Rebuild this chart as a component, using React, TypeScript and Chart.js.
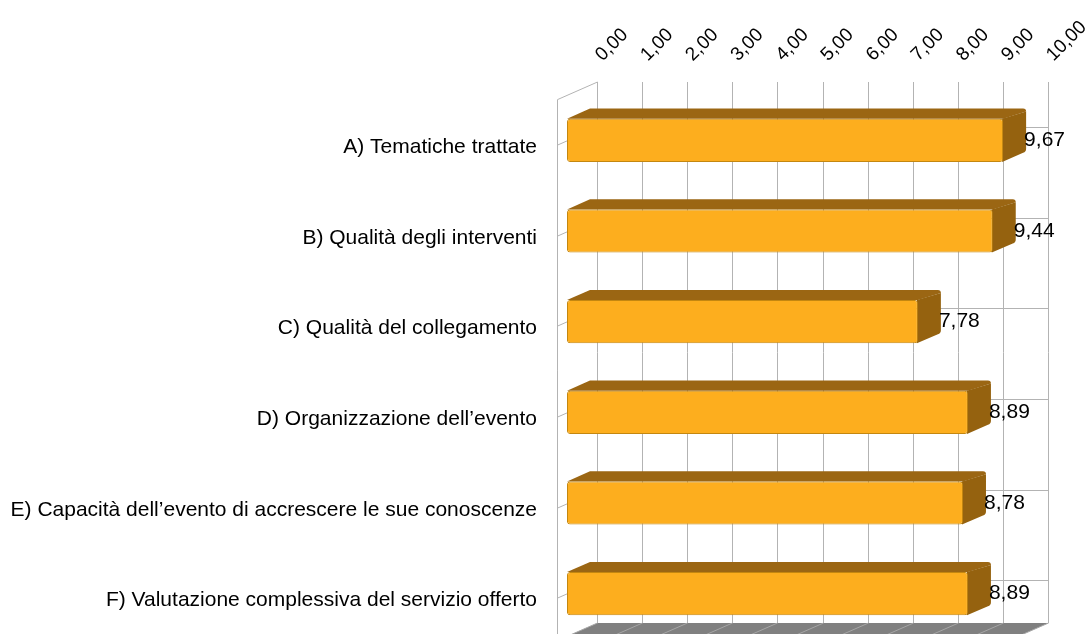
import React, { useEffect, useRef } from "react";
import { Chart, registerables } from "chart.js";

Chart.register(...registerables);

const categories = [
  "A) Tematiche trattate",
  "B) Qualità degli interventi",
  "C) Qualità del collegamento",
  "D) Organizzazione dell’evento",
  "E) Capacità dell’evento di accrescere le sue conoscenze",
  "F) Valutazione complessiva del servizio offerto",
];
const values = [9.67, 9.44, 7.78, 8.89, 8.78, 8.89];
const xTicks = [0, 1, 2, 3, 4, 5, 6, 7, 8, 9, 10];
const X_MIN = 0;
const X_MAX = 10;

const FONT = '"Liberation Sans", Arial, sans-serif';
const fmt = (v: number) => v.toFixed(2).replace(".", ",");

// oblique-projection constants for the 3D look
const K = 0.44; // dy per dx in depth direction
const BACK = 30; // bar front plane -> back wall
const WALL = 10; // wall front -> bar front plane
const DEPTH = 23; // bar depth

const threeD = {
  id: "threeD",
  beforeDatasetsDraw(chart: any) {
    const { ctx, chartArea: ca, scales } = chart;
    const xs = scales.x;
    const ys = scales.y;
    const backTop = ca.top - 13;
    const backBottom = ca.bottom - 16;
    const bx0 = Math.round(xs.getPixelForValue(X_MIN) + BACK) + 0.5;
    const bx1 = Math.round(xs.getPixelForValue(X_MAX) + BACK) + 0.5;
    const fdx = BACK + WALL;
    const fdy = fdx * K;
    ctx.save();
    // floor
    ctx.fillStyle = "#808080";
    ctx.beginPath();
    ctx.moveTo(bx0, backBottom);
    ctx.lineTo(bx1, backBottom);
    ctx.lineTo(bx1 - fdx, backBottom + fdy);
    ctx.lineTo(bx0 - fdx, backBottom + fdy);
    ctx.closePath();
    ctx.fill();
    ctx.lineWidth = 1;
    ctx.strokeStyle = "#a6a6a6";
    xTicks.forEach((v) => {
      const xb = Math.round(xs.getPixelForValue(v) + BACK) + 0.5;
      ctx.beginPath();
      ctx.moveTo(xb, backBottom);
      ctx.lineTo(xb - fdx, backBottom + fdy);
      ctx.stroke();
    });
    // back wall grid
    ctx.strokeStyle = "#b3b3b3";
    xTicks.forEach((v) => {
      const xb = Math.round(xs.getPixelForValue(v) + BACK) + 0.5;
      ctx.beginPath();
      ctx.moveTo(xb, backTop);
      ctx.lineTo(xb, backBottom);
      ctx.stroke();
    });
    categories.forEach((_, i) => {
      const yb = Math.round(ys.getPixelForValue(i) - BACK * K) + 0.5;
      ctx.beginPath();
      ctx.moveTo(bx0, yb);
      ctx.lineTo(bx1, yb);
      ctx.moveTo(bx0, yb);
      ctx.lineTo(bx0 - fdx, yb + fdy);
      ctx.stroke();
    });
    // left wall edges
    ctx.beginPath();
    ctx.moveTo(bx0 - fdx, backTop + fdy);
    ctx.lineTo(bx0 - fdx, backBottom + fdy);
    ctx.moveTo(bx0 - fdx, backTop + fdy);
    ctx.lineTo(bx0, backTop);
    ctx.stroke();
    // bar top & side faces
    const meta = chart.getDatasetMeta(0);
    const dx = DEPTH;
    const dy = DEPTH * K;
    meta.data.forEach((bar: any) => {
      const p = bar.getProps(["x", "y", "base", "height"], true);
      const top = p.y - p.height / 2;
      const bottom = p.y + p.height / 2;
      ctx.fillStyle = "#9b6613";
      ctx.beginPath();
      ctx.moveTo(p.base, top);
      ctx.lineTo(p.base + dx, top - dy);
      ctx.lineTo(p.x + dx - 3, top - dy);
      ctx.quadraticCurveTo(p.x + dx, top - dy, p.x + dx, top - dy + 3);
      ctx.lineTo(p.x, top);
      ctx.closePath();
      ctx.fill();
      ctx.fillStyle = "#95620f";
      ctx.beginPath();
      ctx.moveTo(p.x - 1, top);
      ctx.lineTo(p.x + dx, top - dy + 3);
      ctx.lineTo(p.x + dx, bottom - dy - 3);
      ctx.quadraticCurveTo(p.x + dx, bottom - dy, p.x + dx - 3, bottom - dy + 1);
      ctx.lineTo(p.x - 1, bottom);
      ctx.closePath();
      ctx.fill();
    });
    ctx.restore();
  },
  afterDatasetsDraw(chart: any) {
    const { ctx } = chart;
    const meta = chart.getDatasetMeta(0);
    ctx.save();
    ctx.font = `21px ${FONT}`;
    ctx.fillStyle = "#000";
    ctx.textAlign = "left";
    ctx.textBaseline = "middle";
    meta.data.forEach((bar: any, i: number) => {
      const p = bar.getProps(["x", "y"], true);
      ctx.fillText(fmt(values[i]), p.x + 21, p.y);
    });
    ctx.restore();
  },
};

export default function App() {
  const ref = useRef<HTMLCanvasElement | null>(null);
  useEffect(() => {
    if (!ref.current) return;
    const chart = new Chart(ref.current, {
      type: "bar",
      data: {
        labels: categories,
        datasets: [
          {
            data: values,
            backgroundColor: "#fdae1e",
            borderColor: "#c48710",
            borderWidth: 1,
            borderRadius: 3,
            borderSkipped: false,
            barPercentage: 0.477,
            categoryPercentage: 1,
            base: 0,
            clip: false,
          } as any,
        ],
      },
      options: {
        indexAxis: "y",
        animation: false,
        responsive: true,
        maintainAspectRatio: false,
        layout: { padding: { left: 0, right: 73, top: 0, bottom: 6 } },
        plugins: {
          legend: { display: false },
          tooltip: { enabled: false },
        },
        scales: {
          x: {
            type: "linear",
            position: "top",
            min: X_MIN,
            max: X_MAX,
            afterBuildTicks: (s: any) => {
              s.ticks = xTicks.map((v) => ({ value: v }));
            },
            afterFit: (s: any) => {
              s.height = 95;
            },
            ticks: {
              autoSkip: false,
              minRotation: 45,
              maxRotation: 45,
              padding: 29,
              labelOffset: 48,
              color: "#000",
              font: { family: FONT, size: 19 },
              callback: (v: any) => fmt(Number(v)),
            },
            grid: { display: false, drawTicks: false },
            border: { display: false },
          },
          y: {
            type: "category",
            position: "left",
            afterFit: (s: any) => {
              s.width = 567;
              s.paddingTop = 0;
              s.paddingBottom = 0;
            },
            ticks: {
              autoSkip: false,
              padding: 30,
              labelOffset: 7,
              color: "#000",
              font: { family: FONT, size: 21 },
            },
            grid: { display: false, drawTicks: false },
            border: { display: false },
          },
        },
      },
      plugins: [threeD],
    });
    return () => chart.destroy();
  }, []);
  return (
    <div
      style={{
        position: "fixed",
        left: 0,
        top: 0,
        width: 1091,
        height: 645,
        background: "#fff",
      }}
    >
      <canvas ref={ref} />
    </div>
  );
}
